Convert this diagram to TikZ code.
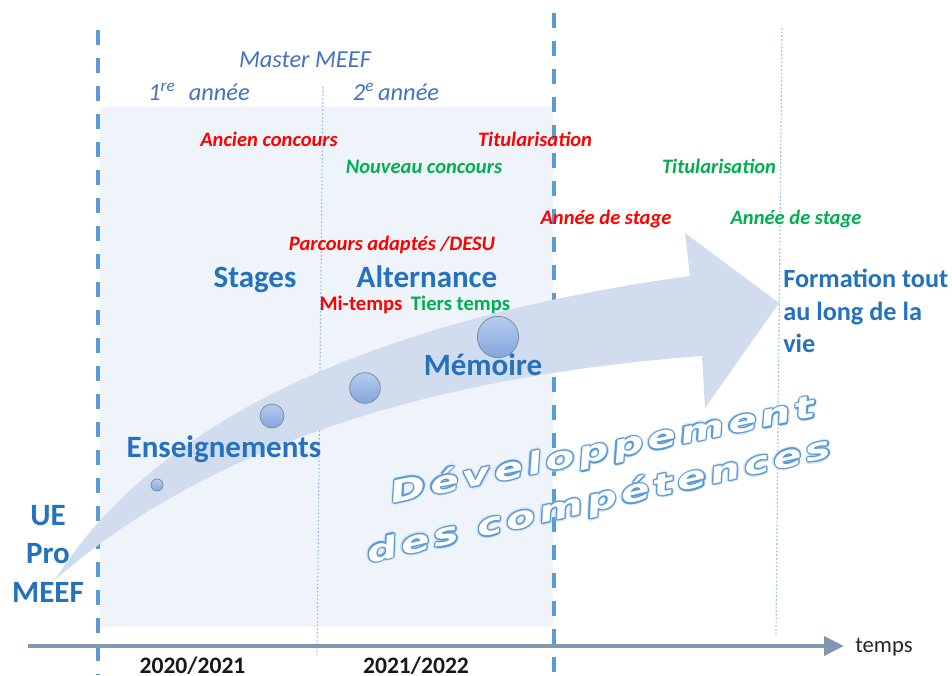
\documentclass[tikz,border=0pt]{standalone}
\usepackage{fontspec}
\usepackage{graphicx}
\setmainfont{Carlito}
\newfontfamily\wafont{DejaVu Sans}[LetterSpace=10]
\usetikzlibrary{arrows.meta}
\definecolor{bgblue}{RGB}{239,244,251}
\definecolor{bandcol}{RGB}{209,221,238}
\definecolor{dashblue}{RGB}{91,155,213}
\definecolor{dotblue}{RGB}{150,190,228}
\definecolor{txtblue}{RGB}{36,114,190}
\definecolor{itblue}{RGB}{68,114,190}
\definecolor{myred}{RGB}{255,0,0}
\definecolor{mygreen}{RGB}{0,176,80}
\definecolor{axiscol}{RGB}{132,151,176}
\definecolor{ballstroke}{RGB}{125,140,165}
\definecolor{balltop}{RGB}{182,205,238}
\definecolor{ballbot}{RGB}{130,166,220}
\definecolor{waline}{RGB}{91,155,213}
\definecolor{waglow}{RGB}{170,200,235}
\begin{document}
\begin{tikzpicture}[x=0.75pt,y=-0.75pt,
  big/.style={text=txtblue, font=\fontsize{23.25}{28}\selectfont\bfseries, inner sep=0pt, anchor=base},
  formt/.style={text=txtblue, font=\fontsize{19.7}{24}\selectfont\bfseries, inner sep=0pt, anchor=base west},
  midt/.style={font=\fontsize{15.5}{18}\selectfont\bfseries, inner sep=0pt, anchor=base},
  smallit/.style={font=\fontsize{15.4}{18}\selectfont\bfseries\itshape, inner sep=0pt, anchor=base},
  ital/.style={text=itblue, font=\fontsize{18.3}{22}\selectfont\itshape, inner sep=0pt, anchor=base},
  yeart/.style={text=black!90, font=\fontsize{17.7}{21}\selectfont\bfseries, inner sep=0pt, anchor=base},
  ball/.style={circle, draw=ballstroke, line width=0.6pt, top color=balltop, bottom color=ballbot, inner sep=0pt},
  wa/.style={font=\wafont\fontsize{22.5}{26}\selectfont\bfseries\itshape, inner sep=0pt, anchor=base},
  thickdash/.style={dashblue, line width=3pt, dash pattern=on 11.25pt off 9.75pt},
  thindot/.style={dotblue, line width=0.9pt, dash pattern=on 1.2pt off 1.6pt}
]
\useasboundingbox (0,0) rectangle (952,675);
\fill[white] (0,0) rectangle (952,675);
% background panel
\fill[bgblue] (100,107) rectangle (553,627);
% thin dotted separators
\coordinate (dt1a) at (323,87); \coordinate (dt1b) at (317,655);
\coordinate (dt2a) at (782,28); \coordinate (dt2b) at (776,635);
\draw[thindot] (dt1a) -- (dt1b);
\draw[thindot] (dt2a) -- (dt2b);
% thick dashed separators
\coordinate (ds1a) at (98,30); \coordinate (ds1b) at (98,675);
\coordinate (ds2a) at (554,13); \coordinate (ds2b) at (554,675);
\draw[thickdash] (ds1a) -- (ds1b);
\draw[thickdash] (ds2a) -- (ds2b);
% time axis
\coordinate (ax0) at (28,646); \coordinate (ax1) at (844,646);
\draw[axiscol, line width=3.4pt, -{Triangle[length=15pt,width=14pt]}] (ax0) -- (ax1);
\node[text=black!85, font=\fontsize{17}{20}\selectfont, inner sep=0pt, anchor=base] (temps) at (884,652) {temps};
\node[yeart] (y1) at (192.5,673) {2020/2021};
\node[yeart] (y2) at (416,673) {2021/2022};
% big curved arrow
\fill[bandcol] (55,580) .. controls (180,470) and (380,380) .. (702,356) -- (705,408) -- (779,303) -- (685,233) -- (690,276) .. controls (300,330) and (130,460) .. cycle;
% balls
\node[ball, minimum size=9pt] (b1) at (157,485) {};
\node[ball, minimum size=18pt] (b2) at (272,416) {};
\node[ball, minimum size=23pt] (b3) at (365,388) {};
\node[ball, minimum size=31pt] (b4) at (498,337) {};
% headers
\node[ital] (master) at (305,67) {Master MEEF};
\node[ital] (an1) at (199,100) {1\textsuperscript{re}\hspace{0.55em}année};
\node[ital] (an2) at (396,100) {2\textsuperscript{e}\,année};
% small italic labels
\node[smallit, text=myred] (anc) at (269,146) {Ancien concours};
\node[smallit, text=mygreen] (nouv) at (424,173) {Nouveau concours};
\node[smallit, text=myred] (tit1) at (535,146) {Titularisation};
\node[smallit, text=mygreen] (tit2) at (719,173) {Titularisation};
\node[smallit, text=myred] (ann1) at (606,224) {Année de stage};
\node[smallit, text=mygreen] (ann2) at (796,224) {Année de stage};
\node[smallit, text=myred] (parc) at (392,250) {Parcours adaptés /DESU};
% big labels
\node[big] (stages) at (255,287) {Stages};
\node[big] (alt) at (427,287) {Alternance};
\node[midt, text=myred] (mi) at (361,310) {Mi-temps};
\node[midt, text=mygreen] (tiers) at (460.5,310) {Tiers temps};
\node[big] (mem) at (483,375) {Mémoire};
\node[big] (ens) at (224,457) {Enseignements};
\node[big] (ue1) at (48,525) {UE};
\node[big] (ue2) at (48,563) {Pro};
\node[big] (ue3) at (48,602) {MEEF};
\node[formt] (f1) at (783,287) {Formation tout};
\node[formt] (f2) at (783,320) {au long de la};
\node[formt] (f3) at (783,352) {vie};
% outlined word-art text
\foreach \a in {0,30,...,330} {
  \node[wa, text=waglow, opacity=0.25, rotate=11.5, shift={(\a:1.9pt)}] (dg\a) at (605,460) {\scalebox{1.43}[1]{Développement}};
  \node[wa, text=waglow, opacity=0.25, rotate=12.9, shift={(\a:1.9pt)}] (cg\a) at (601,510) {\scalebox{1.43}[1]{des compétences}};
}
\foreach \a in {0,30,...,330} {
  \node[wa, text=waline, rotate=11.5, shift={(\a:0.9pt)}] (dl\a) at (605,460) {\scalebox{1.43}[1]{Développement}};
  \node[wa, text=waline, rotate=12.9, shift={(\a:0.9pt)}] (cl\a) at (601,510) {\scalebox{1.43}[1]{des compétences}};
}
\node[wa, text=white, rotate=11.5] (dev) at (605,460) {\scalebox{1.43}[1]{Développement}};
\node[wa, text=white, rotate=12.9] (comp) at (601,510) {\scalebox{1.43}[1]{des compétences}};
\end{tikzpicture}
\end{document}
